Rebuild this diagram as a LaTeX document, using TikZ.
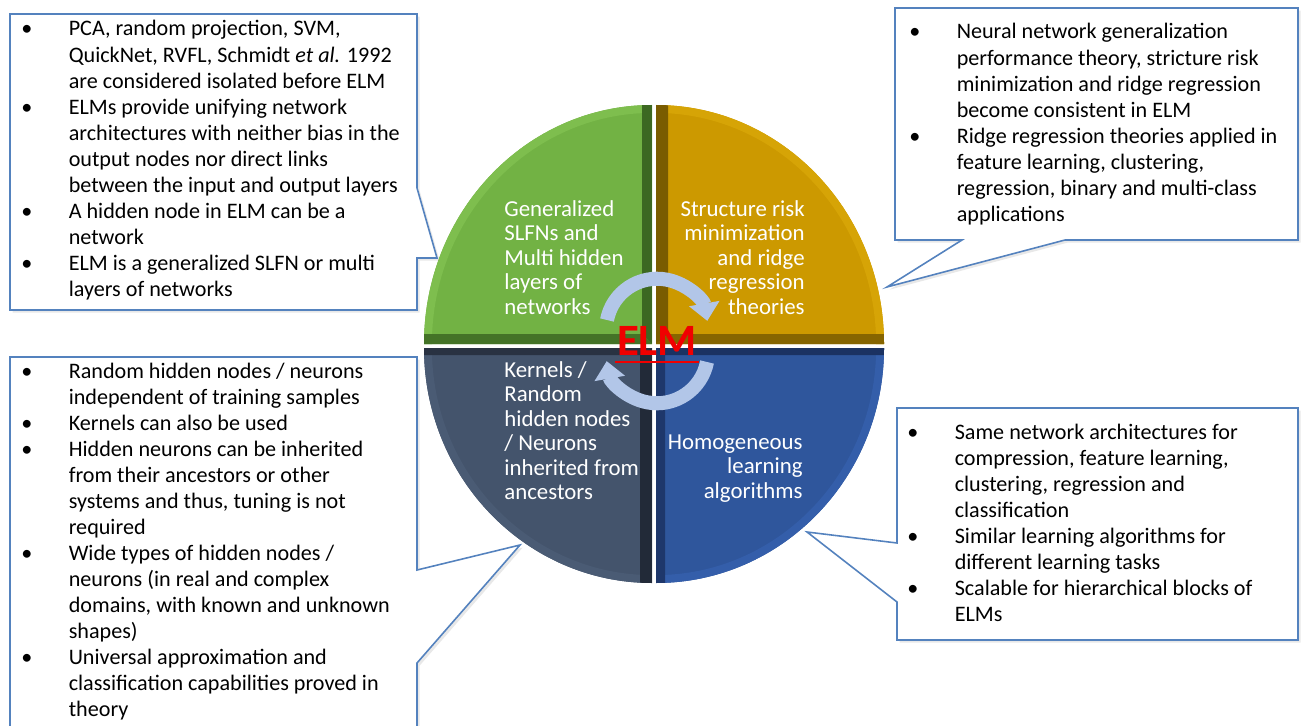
\documentclass[tikz,border=0pt]{standalone}
\usepackage{fontspec}
\setmainfont{Carlito}
\usetikzlibrary{arrows.meta,shadows}

\definecolor{slfngreen}{RGB}{114,178,68}
\definecolor{slfndark}{RGB}{60,104,34}
\definecolor{slfnlight}{RGB}{126,190,78}
\definecolor{srmgold}{RGB}{204,153,0}
\definecolor{srmdark}{RGB}{122,92,0}
\definecolor{srmlight}{RGB}{214,164,6}
\definecolor{krnslate}{RGB}{68,84,108}
\definecolor{krndark}{RGB}{34,42,56}
\definecolor{krnlight}{RGB}{74,91,116}
\definecolor{homblue}{RGB}{47,86,156}
\definecolor{homdark}{RGB}{27,50,98}
\definecolor{homlight}{RGB}{52,94,170}
\definecolor{cycblue}{RGB}{178,198,232}
\definecolor{notebd}{RGB}{84,130,190}
\definecolor{elmred}{RGB}{240,0,0}

\begin{document}
\begin{tikzpicture}[x=0.02cm, y=-0.02cm,
  note/.style={draw=notebd, fill=white, line width=0.9pt, line join=miter,
    drop shadow={shadow xshift=1.5pt, shadow yshift=-1.5pt, opacity=0.18}},
  notetext/.style={anchor=base west, inner sep=0pt, font=\fontsize{12.6}{14.8}\selectfont},
  quadtext/.style={inner sep=0pt, text=white, font=\fontsize{13}{14}\selectfont},
  cyc/.style={draw=cycblue, line width=8pt, -{Triangle[width=17pt,length=10pt]}}]
\useasboundingbox (0,0) rectangle (1301,726);
\clip (0,0) rectangle (1301,726);

% quadrants
\begin{scope}
  \clip (652,344) -- (424,344) arc[start angle=180, end angle=270, x radius=228, y radius=239] -- cycle;
  \fill[slfngreen] (400,80) rectangle (660,350);
  \draw[slfnlight, line width=9pt] (424,344) arc[start angle=180, end angle=270, x radius=228, y radius=239];
  \fill[slfndark!85!slfngreen] (652,344) -- (415,344) -- (415,334) -- (642,334) -- cycle;
  \fill[slfndark] (652,344) -- (652,100) -- (642,100) -- (642,334) -- cycle;
\end{scope}
\begin{scope}
  \clip (656,344) -- (656,105) arc[start angle=270, end angle=360, x radius=228, y radius=239] -- cycle;
  \fill[srmgold] (650,80) rectangle (900,350);
  \draw[srmlight, line width=9pt] (656,105) arc[start angle=270, end angle=360, x radius=228, y radius=239];
  \fill[srmdark] (656,344) -- (656,100) -- (668,100) -- (668,334) -- cycle;
  \fill[srmdark!85!srmgold] (656,344) -- (890,344) -- (890,334) -- (668,334) -- cycle;
\end{scope}
\begin{scope}
  \clip (652,348) -- (652,583) arc[start angle=90, end angle=180, x radius=228, y radius=235] -- cycle;
  \fill[krnslate] (400,340) rectangle (660,600);
  \draw[krnlight, line width=9pt] (652,583) arc[start angle=90, end angle=180, x radius=228, y radius=235];
  \fill[krndark!80!krnslate] (652,348) -- (415,348) -- (415,355) -- (640,355) -- cycle;
  \fill[krndark] (652,348) -- (652,590) -- (640,590) -- (640,355) -- cycle;
\end{scope}
\begin{scope}
  \clip (656,348) -- (884,348) arc[start angle=0, end angle=90, x radius=228, y radius=235] -- cycle;
  \fill[homblue] (650,340) rectangle (900,600);
  \draw[homlight, line width=9pt] (884,348) arc[start angle=0, end angle=90, x radius=228, y radius=235];
  \fill[homdark] (656,348) -- (890,348) -- (890,355) -- (665,355) -- cycle;
  \fill[homdark!85!homblue] (656,348) -- (656,590) -- (665,590) -- (665,355) -- cycle;
\end{scope}

% cycle arrows
\draw[cyc] (607,320) arc[start angle=191, end angle=350, radius=51];
\draw[cyc] (707,362) arc[start angle=11, end angle=170, radius=51];

\node[anchor=base, inner sep=0pt, text=elmred, font=\fontsize{25.5}{25.5}\selectfont\bfseries] (ELM) at (657,355) {ELM};
\draw[elmred, line width=1.6pt] ([xshift=-1pt,yshift=-4pt]ELM.base west) -- ([xshift=1pt,yshift=-4pt]ELM.base east);

\node[quadtext, anchor=base west] (SLFN) at (504,216)
  {\begin{tabular}[t]{@{}l@{}}Generalized\\SLFNs and\\Multi hidden\\layers of\\networks\end{tabular}};
\node[quadtext, anchor=base east] (SRM) at (805,216)
  {\begin{tabular}[t]{@{}r@{}}Structure risk\\minimization\\and ridge\\regression\\theories\end{tabular}};
\node[quadtext, anchor=base west] (KRN) at (504,377)
  {\begin{tabular}[t]{@{}l@{}}Kernels /\\Random\\hidden nodes\\/ Neurons\\inherited from\\ancestors\end{tabular}};
\node[quadtext, anchor=base east] (HOM) at (803,449)
  {\begin{tabular}[t]{@{}r@{}}Homogeneous\\learning\\algorithms\end{tabular}};

% callouts
\coordinate (SLFNtip) at (437,258);
\coordinate (SRMtip) at (887,287);
\coordinate (KRNtip) at (520,545);
\coordinate (HOMtip) at (807,532);
\draw[note] (10,14) -- (417,14) -- (417,188) -- (SLFNtip) -- (417,258) -- (417,310) -- (10,310) -- cycle;
\draw[note] (895,8) -- (1298,8) -- (1298,240) -- (1065,240) -- (SRMtip) -- (962,240) -- (895,240) -- cycle;
\draw[note] (10,357) -- (417,357) -- (417,570) -- (KRNtip) -- (417,663) -- (417,740) -- (10,740) -- cycle;
\draw[note] (897,408) -- (1298,408) -- (1298,640) -- (897,640) -- (897,602) -- (HOMtip) -- (897,543) -- cycle;

\node[notetext] (SLFNnote) at (21,36) {\begin{tabular}[t]{@{}p{27pt}@{}l@{}}
\textbullet & PCA, random projection, SVM,\\
 & QuickNet, RVFL, Schmidt \textit{et al.} 1992\\
 & are considered isolated before ELM\\
\textbullet & ELMs provide unifying network\\
 & architectures with neither bias in the\\
 & output nodes nor direct links\\
 & between the input and output layers\\
\textbullet & A hidden node in ELM can be a\\
 & network\\
\textbullet & ELM is a generalized SLFN or multi\\
 & layers of networks
\end{tabular}};
\node[notetext] (SRMnote) at (909,39) {\begin{tabular}[t]{@{}p{27pt}@{}l@{}}
\textbullet & Neural network generalization\\
 & performance theory, stricture risk\\
 & minimization and ridge regression\\
 & become consistent in ELM\\
\textbullet & Ridge regression theories applied in\\
 & feature learning, clustering,\\
 & regression, binary and multi-class\\
 & applications
\end{tabular}};
\node[notetext] (KRNnote) at (21,378) {\begin{tabular}[t]{@{}p{27pt}@{}l@{}}
\textbullet & Random hidden nodes / neurons\\
 & independent of training samples\\
\textbullet & Kernels can also be used\\
\textbullet & Hidden neurons can be inherited\\
 & from their ancestors or other\\
 & systems and thus, tuning is not\\
 & required\\
\textbullet & Wide types of hidden nodes /\\
 & neurons (in real and complex\\
 & domains, with known and unknown\\
 & shapes)\\
\textbullet & Universal approximation and\\
 & classification capabilities proved in\\
 & theory
\end{tabular}};
\node[notetext] (HOMnote) at (907,439) {\begin{tabular}[t]{@{}p{27pt}@{}l@{}}
\textbullet & Same network architectures for\\
 & compression, feature learning,\\
 & clustering, regression and\\
 & classification\\
\textbullet & Similar learning algorithms for\\
 & different learning tasks\\
\textbullet & Scalable for hierarchical blocks of\\
 & ELMs
\end{tabular}};
\end{tikzpicture}
\end{document}
